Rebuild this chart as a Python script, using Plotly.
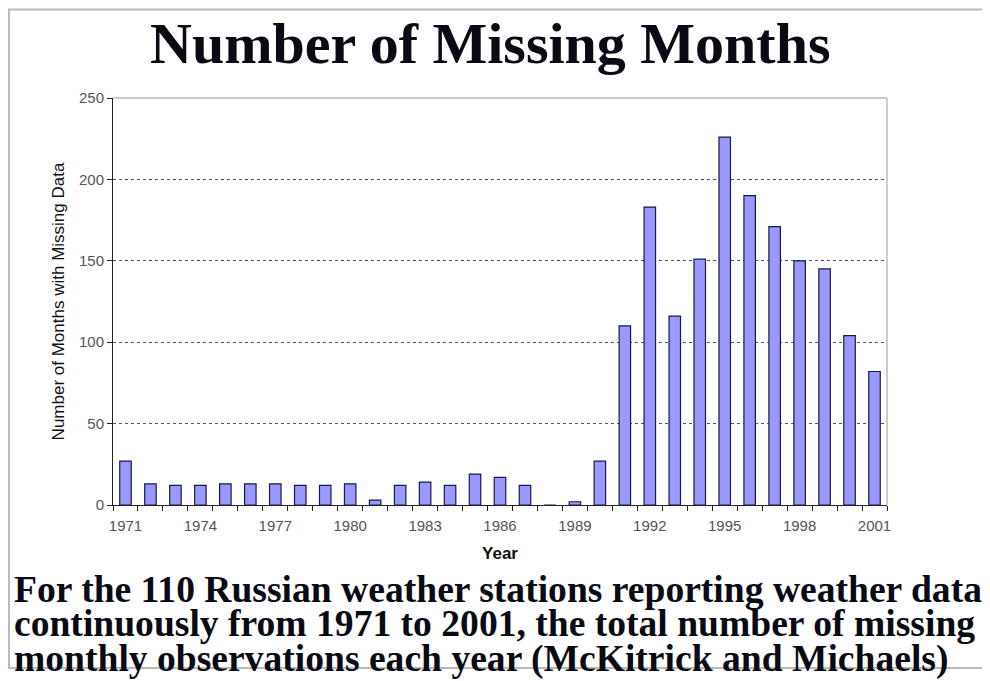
"""Number of missing months bar chart."""

import plotly.graph_objects as go

years = list(range(1971, 2002))
missing = [27, 13, 12, 12, 13, 13, 13, 12, 12, 13,
           3, 12, 14, 12, 19, 17, 12, 0, 2, 27,
           110, 183, 116, 151, 226, 190, 171, 150, 145, 104, 82]
tick_years = list(range(1971, 2002, 3))

title_text = "Number of Missing Months"
caption_lines = [
    "For the 110 Russian weather stations reporting weather data",
    "continuously from 1971 to 2001, the total number of missing",
    "monthly observations each year (McKitrick and Michaels)",
]

# the page body adds an 8px margin, so work in screen pixels and shift
OFF = 8
W, H = 990 - OFF, 681 - OFF
L, T = 113 - OFF, 98 - OFF
R, B = W - (887 - OFF), H - (505 - OFF)
PW, PH = W - L - R, H - T - B


def px_x(x):
    return (x - OFF - L) / PW


def px_y(y):
    return (H - B - (y - OFF)) / PH


fig = go.Figure(
    go.Bar(
        x=years,
        y=missing,
        marker=dict(color="#9999ff", line=dict(color="#1a1a4a", width=1.2)),
        width=0.46,
    )
)

fig.update_layout(
    width=W,
    height=H,
    margin=dict(l=L, r=R, t=T, b=B),
    paper_bgcolor="white",
    plot_bgcolor="white",
    showlegend=False,
    font=dict(family="Liberation Sans, Arial", color="#333"),
    xaxis=dict(
        range=[1970.5, 2001.5],
        tickvals=tick_years,
        ticktext=[str(y) for y in tick_years],
        ticks="",
        tickfont=dict(size=15, color="#555"),
        ticklabelstandoff=7,
        showline=True,
        linecolor="#222",
        linewidth=1,
        showgrid=False,
        zeroline=False,
        minor=dict(ticks="outside", tick0=1970.5, dtick=1, ticklen=5, tickcolor="#222", showgrid=False),
        title=dict(text="<b>Year</b>", font=dict(size=17, color="#111"), standoff=14),
    ),
    yaxis=dict(
        range=[0, 250],
        dtick=50,
        ticks="outside",
        ticklen=5,
        tickcolor="#222",
        tickfont=dict(size=15, color="#555"),
        showline=True,
        linecolor="#222",
        linewidth=1,
        showgrid=True,
        gridcolor="#555",
        griddash="3px,3px",
        gridwidth=1,
        zeroline=False,
        title=dict(text="Number of Months with Missing Data", font=dict(size=17, color="#111"), standoff=10),
    ),
)

# plot area border on top and right, Excel style
fig.add_shape(type="line", xref="paper", yref="paper", x0=0, x1=1, y0=1, y1=1,
              line=dict(color="#999", width=1))
fig.add_shape(type="line", xref="paper", yref="paper", x0=1, x1=1, y0=0, y1=1,
              line=dict(color="#999", width=1))

# outer frame
fig.add_shape(type="rect", xref="paper", yref="paper",
              x0=px_x(9), x1=px_x(987), y0=px_y(668), y1=px_y(9.5),
              line=dict(color="#bbb", width=2))

fig.add_annotation(
    text=f"<b>{title_text}</b>", xref="paper", yref="paper",
    x=px_x(490), y=px_y(9), xanchor="center", yanchor="top", showarrow=False,
    font=dict(family="Liberation Serif, Times New Roman", size=58, color="#0a0a14"),
)

# one text block; line pitch follows the small base size, glyphs use the big span size
caption_html = "<br>".join(
    f"<span style='font-size:37.6px'><b>{line}</b></span>" for line in caption_lines
)
fig.add_annotation(
    text=caption_html, xref="paper", yref="paper",
    x=px_x(12), y=px_y(624), xanchor="left", yanchor="middle", align="left", showarrow=False,
    font=dict(family="Liberation Serif, Times New Roman", size=26.5, color="#0a0a14"),
)

fig.write_html("out.html")
